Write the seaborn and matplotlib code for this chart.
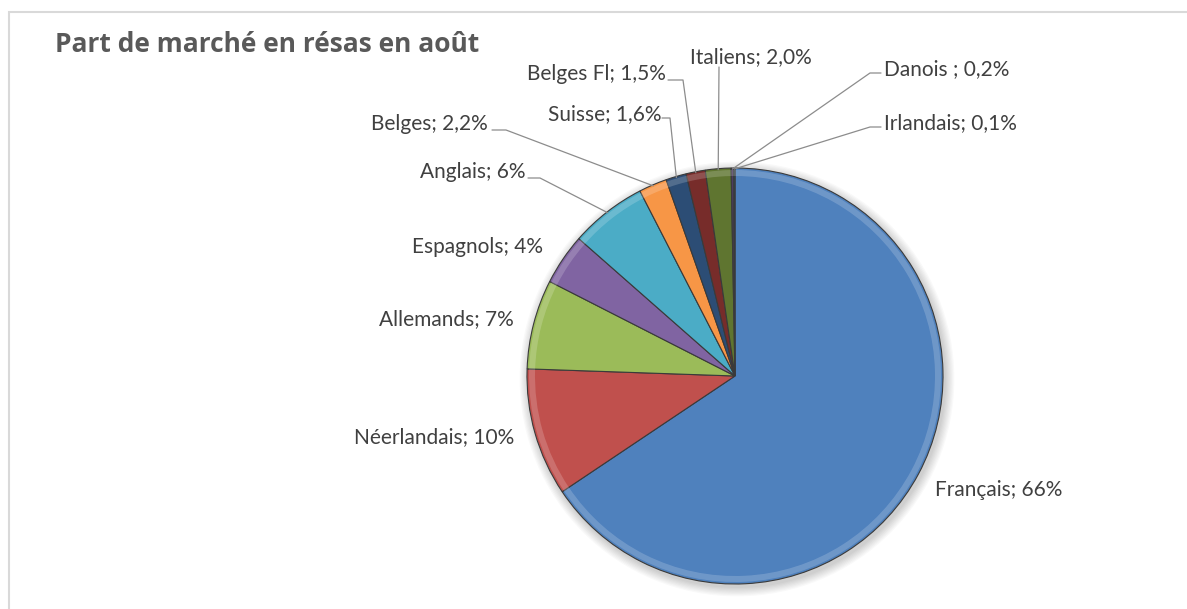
import numpy as np
import matplotlib.pyplot as plt
import seaborn as sns
from matplotlib.patches import Rectangle, Circle, Wedge

# data (clockwise from 12 o'clock)
pays = ["Français", "Néerlandais", "Allemands", "Espagnols", "Anglais", "Belges",
        "Suisse", "Belges Fl", "Italiens", "Danois ", "Irlandais"]
parts = [66, 10, 7, 4, 6, 2.2, 1.6, 1.5, 2.0, 0.2, 0.1]
etiquettes = ["66%", "10%", "7%", "4%", "6%", "2,2%", "1,6%", "1,5%", "2,0%", "0,2%", "0,1%"]
couleurs = ["#4F81BD", "#C0504D", "#9BBB59", "#8064A2", "#4BACC6", "#F79646",
            "#2C4D75", "#772C2A", "#5F7530", "#4D3B62", "#276A7C"]

sns.set_theme(style="white")
plt.rcParams["font.family"] = ["Lato", "DejaVu Sans"]

W, H = 1187, 609
fig = plt.figure(figsize=(W / 100, H / 100), dpi=100)
ax = fig.add_axes([0, 0, 1, 1])

# outer frame of the chart area
ax.add_patch(Rectangle((9, -5), W + 10, H - 12 + 5, fill=False, ec="#D9D9D9", lw=1.5))

cx, cy, r = 735, H - 376, 208

# soft shadow around the pie
for k in range(8):
    ax.add_patch(Circle((cx + 2, cy - 3), r + 1 + k * 1.2, color="#000000", alpha=0.025, lw=0, zorder=1))

wedges, _ = ax.pie(parts, colors=couleurs, startangle=90, counterclock=False,
                   center=(cx, cy), radius=r, frame=True,
                   wedgeprops=dict(edgecolor="#3a3a3a", linewidth=0.8, zorder=2))
ax.set_xlim(0, W)
ax.set_ylim(0, H)
ax.set_aspect("equal")
ax.axis("off")

# light rim to mimic the bevel
for w in wedges:
    ax.add_patch(Wedge((cx, cy), r - 2, w.theta1, w.theta2, width=6,
                       facecolor="white", alpha=0.18, lw=0, zorder=3))

# label positions (pixels from top-left) and alignment
pos = {
    "Français": (935, 490, "left"),
    "Néerlandais": (514, 437, "right"),
    "Allemands": (514, 319, "right"),
    "Espagnols": (543, 247, "right"),
    "Anglais": (525, 172, "right"),
    "Belges": (488, 124, "right"),
    "Suisse": (661, 114, "right"),
    "Belges Fl": (666, 74, "right"),
    "Italiens": (751, 57, "center"),
    "Danois ": (884, 69, "left"),
    "Irlandais": (884, 123, "left"),
}
# leader lines: (start x, start y, elbow x, elbow y) in pixels
traits = {
    "Anglais": (528, 178, 540, 178),
    "Belges": (492, 130, 506, 130),
    "Suisse": (662, 118, 670, 118),
    "Belges Fl": (668, 80, 683, 80),
    "Italiens": (719, 67, 719, 67),
    "Danois ": (881, 73, 870, 73),
    "Irlandais": (881, 127, 870, 127),
}

for w, nom, lab in zip(wedges, pays, etiquettes):
    x, y, ha = pos[nom]
    ax.text(x, H - y, f"{nom}; {lab}", ha=ha, va="center", fontsize=15, color="#404040", zorder=5)
    if nom in traits:
        sx, sy, ex, ey = traits[nom]
        a = np.deg2rad((w.theta1 + w.theta2) / 2)
        px, py = cx + (r - 1) * np.cos(a), cy + (r - 1) * np.sin(a)
        ax.plot([sx, ex, px], [H - sy, H - ey, py], color="#8C8C8C", lw=0.9, zorder=4)

ax.text(55, H - 44, "Part de marché en résas en août", fontsize=19, fontweight="bold",
        color="#595959", ha="left", va="center", family=["Open Sans", "DejaVu Sans"])

fig.savefig("out.png", dpi=100, facecolor="white")
